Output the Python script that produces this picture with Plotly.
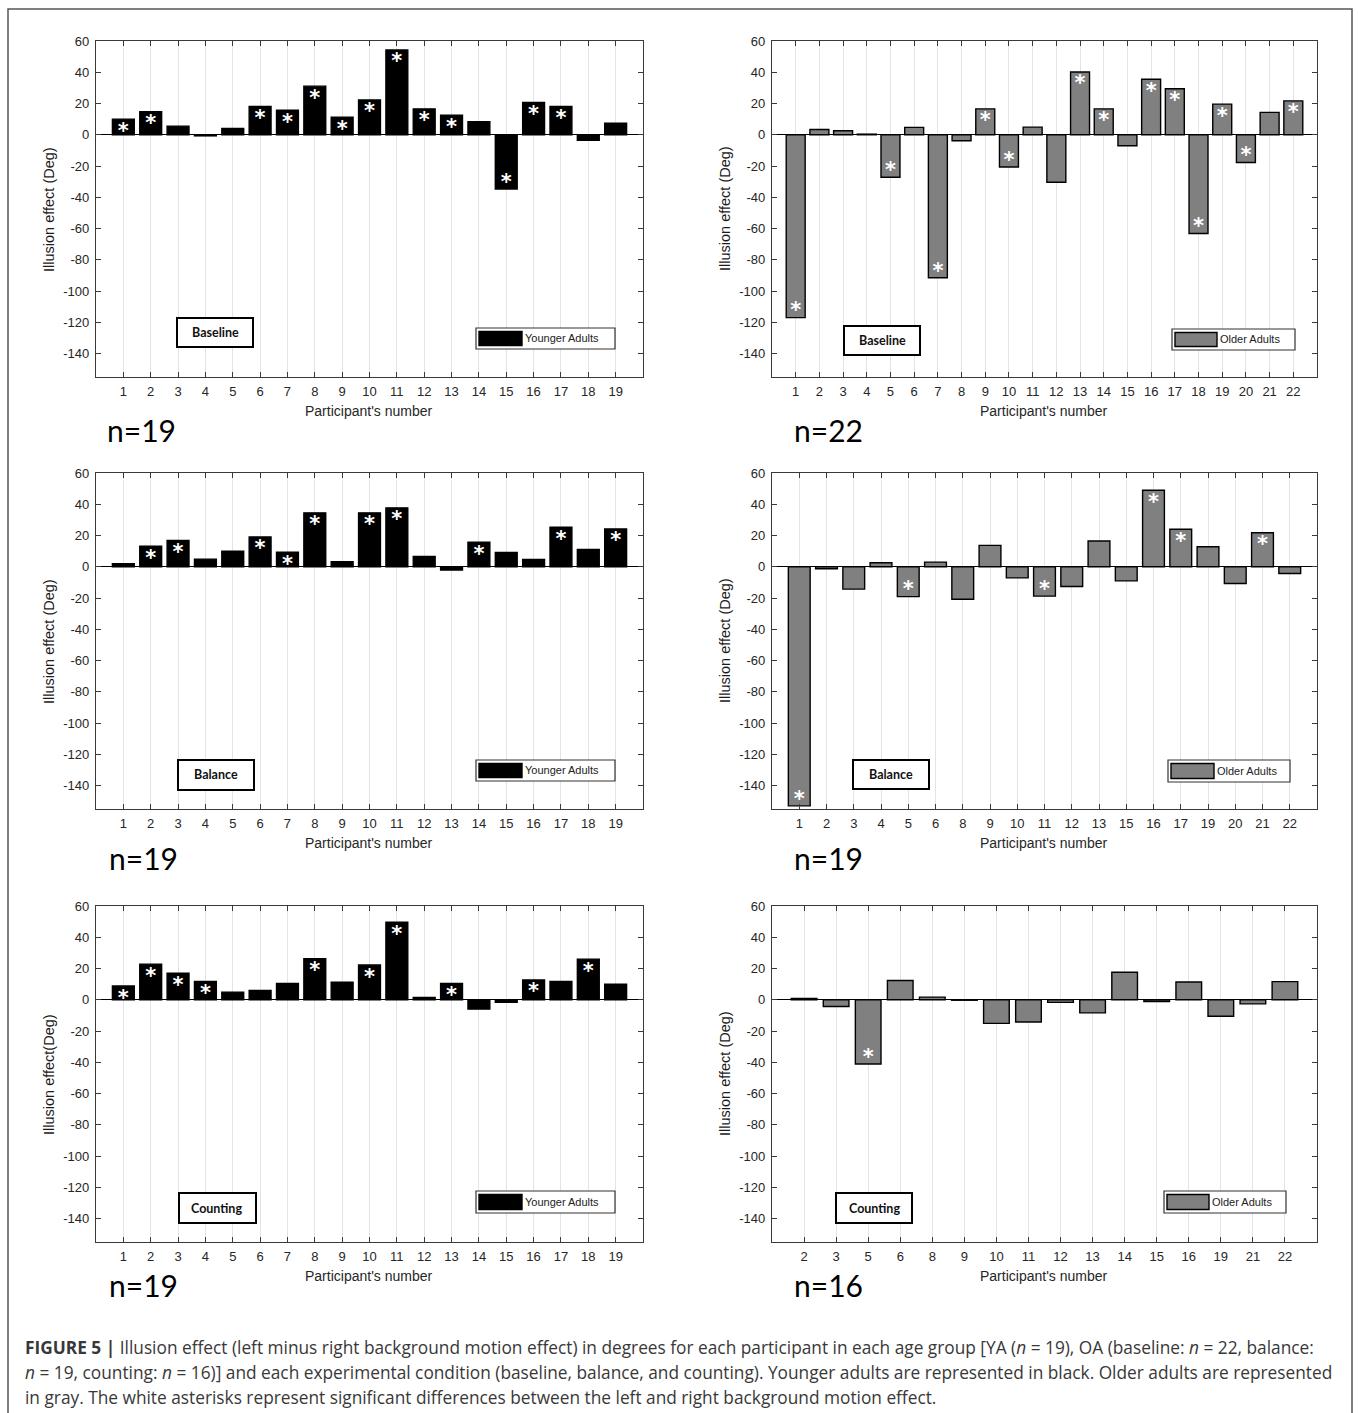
import plotly.graph_objects as go

W, H = 1358, 1413

# ---------------------------------------------------------------- data
ya_ids = ["1", "2", "3", "4", "5", "6", "7", "8", "9", "10",
          "11", "12", "13", "14", "15", "16", "17", "18", "19"]
oa_base_ids = ["1", "2", "3", "4", "5", "6", "7", "8", "9", "10", "11",
               "12", "13", "14", "15", "16", "17", "18", "19", "20", "21", "22"]
oa_bal_ids = ["1", "2", "3", "4", "5", "6", "8", "9", "10", "11",
              "12", "13", "15", "16", "17", "19", "20", "21", "22"]
oa_cnt_ids = ["2", "3", "5", "6", "8", "9", "10", "11",
              "12", "13", "14", "15", "16", "19", "21", "22"]

# illusion effect (deg) per participant
ya_baseline = [10.0, 14.7, 5.5, -0.7, 4.0, 18.1, 15.7, 31.1, 11.3, 22.3,
               54.3, 16.6, 12.6, 8.3, -34.7, 20.6, 18.1, -3.6, 7.4]
oa_baseline = [-117.0, 3.4, 2.6, 0.4, -27.2, 4.7, -91.5, -3.8, 16.6, -20.6, 4.9,
               -30.4, 40.2, 16.6, -7.0, 35.5, 29.4, -63.2, 19.6, -17.7, 14.3, 21.7]
ya_balance = [1.9, 13.1, 16.9, 4.9, 9.9, 19.1, 9.4, 34.5, 3.2, 34.5,
              37.7, 6.6, -2.1, 15.8, 9.2, 4.7, 25.3, 11.1, 24.2]
oa_balance = [-153.0, -1.3, -14.3, 2.6, -19.1, 3.0, -20.8, 13.7, -7.1, -18.8,
              -12.6, 16.5, -9.0, 49.0, 24.0, 12.8, -10.7, 21.8, -4.3]
ya_counting = [8.8, 22.8, 17.0, 11.8, 4.9, 6.0, 10.5, 26.2, 11.2, 22.2,
               49.7, 1.5, 10.5, -6.0, -1.7, 12.7, 11.8, 26.0, 9.9]
oa_counting = [0.9, -4.3, -41.1, 12.3, 1.7, -0.3, -15.1, -14.2,
               -1.7, -8.4, 17.6, -1.1, 11.4, -10.5, -2.6, 11.6]

# participants with a significant left/right difference (white asterisk)
ya_baseline_sig = ["1", "2", "6", "7", "8", "9", "10", "11", "12", "13", "15", "16", "17"]
oa_baseline_sig = ["1", "5", "7", "9", "10", "13", "14", "16", "17", "18", "19", "20", "22"]
ya_balance_sig = ["2", "3", "6", "7", "8", "10", "11", "14", "17", "19"]
oa_balance_sig = ["1", "5", "11", "16", "17", "21"]
ya_counting_sig = ["1", "2", "3", "4", "8", "10", "11", "13", "16", "18"]
oa_counting_sig = ["5"]

y_ticks = [60, 40, 20, 0, -20, -40, -60, -80, -100, -120, -140]

# ---------------------------------------------------------------- style
YA_COLOR = "#000000"
OA_COLOR = "#808080"
GRID = "#e4e0ee"
AXIS = "#3a3a3a"
TXT = "#262626"

col_x = [(96, 643), (772, 1317)]          # plot frame, px
row_y = [(41, 377), (473, 809), (906, 1242)]
ytitle_x = [49, 725]                      # rotated y-title centre, px

panels = [
    dict(ids=ya_ids, vals=ya_baseline, sig=ya_baseline_sig, color=YA_COLOR, col=0, row=0,
         cond="Baseline", group="Younger Adults", n="n=19", ytitle="Illusion effect (Deg)",
         cbox=(177, 318, 253, 347), lbox=(476, 328, 615, 349), sw=(479, 522), nxy=(105, 430)),
    dict(ids=oa_base_ids, vals=oa_baseline, sig=oa_baseline_sig, color=OA_COLOR, col=1, row=0,
         cond="Baseline", group="Older Adults", n="n=22", ytitle="Illusion effect (Deg)",
         cbox=(844, 326, 920, 355), lbox=(1172, 329, 1295, 350), sw=(1175, 1217), nxy=(792, 430)),
    dict(ids=ya_ids, vals=ya_balance, sig=ya_balance_sig, color=YA_COLOR, col=0, row=1,
         cond="Balance", group="Younger Adults", n="n=19", ytitle="Illusion effect (Deg)",
         cbox=(178, 760, 254, 790), lbox=(476, 760, 615, 781), sw=(479, 522), nxy=(107, 858)),
    dict(ids=oa_bal_ids, vals=oa_balance, sig=oa_balance_sig, color=OA_COLOR, col=1, row=1,
         cond="Balance", group="Older Adults", n="n=19", ytitle="Illusion effect (Deg)",
         cbox=(853, 760, 929, 789), lbox=(1168, 760, 1290, 782), sw=(1171, 1214), nxy=(792, 858)),
    dict(ids=ya_ids, vals=ya_counting, sig=ya_counting_sig, color=YA_COLOR, col=0, row=2,
         cond="Counting", group="Younger Adults", n="n=19", ytitle="Illusion effect(Deg)",
         cbox=(179, 1193, 256, 1223), lbox=(476, 1191, 615, 1213), sw=(479, 522), nxy=(107, 1285)),
    dict(ids=oa_cnt_ids, vals=oa_counting, sig=oa_counting_sig, color=OA_COLOR, col=1, row=2,
         cond="Counting", group="Older Adults", n="n=16", ytitle="Illusion effect (Deg)",
         cbox=(836, 1193, 912, 1223), lbox=(1164, 1191, 1286, 1213), sw=(1167, 1209), nxy=(792, 1285)),
]


def px(x):
    return x / W


def py(y):
    return 1 - y / H


def label(x, y, text, size, family="Liberation Sans", color=TXT, xanchor="center",
          angle=0):
    return dict(x=px(x), y=py(y), xref="paper", yref="paper", xanchor=xanchor,
                yanchor="middle", text=text, textangle=angle, showarrow=False,
                font=dict(family=family, size=size, color=color))


fig = go.Figure()
layout = dict(template="none", width=W, height=H,
              margin=dict(l=0, r=0, t=0, b=0, pad=0, autoexpand=False),
              paper_bgcolor="white", plot_bgcolor="white", showlegend=False,
              font=dict(family="Liberation Sans", color=TXT))
shapes, annotations = [], []

for i, p in enumerate(panels, start=1):
    xa, ya = f"x{i}", f"y{i}"
    x0, x1 = col_x[p["col"]]
    y0, y1 = row_y[p["row"]]
    n = len(p["ids"])

    fig.add_trace(go.Bar(
        x=p["ids"], y=p["vals"], width=0.8, xaxis=xa, yaxis=ya,
        marker=dict(color=p["color"], line=dict(color="black", width=1.4)),
        hoverinfo="x+y"))

    # asterisks sit just inside the end of each significant bar
    # (the glyph rides high in its text box, hence the uneven offsets)
    lookup = dict(zip(p["ids"], p["vals"]))
    sx = p["sig"]
    sy = [lookup[k] - 8.5 if lookup[k] > 0 else lookup[k] + 3.5 for k in sx]
    fig.add_trace(go.Scatter(
        x=sx, y=sy, mode="text", text=["*"] * len(sx), xaxis=xa, yaxis=ya,
        textfont=dict(family="DejaVu Sans", size=21, color="white", weight="bold"),
        hoverinfo="skip"))

    layout[f"xaxis{i}"] = dict(
        type="category", domain=[px(x0), px(x1)], anchor=ya, range=[-1, n],
        automargin=False,
        showline=True, linecolor=AXIS, linewidth=1.4, mirror="allticks",
        ticks="inside", ticklen=5, tickwidth=1.2, tickcolor=AXIS,
        showgrid=True, gridcolor=GRID, gridwidth=1, zeroline=False,
        tickfont=dict(family="Liberation Sans", size=13, color=TXT),
        ticklabelstandoff=2, fixedrange=True)
    layout[f"yaxis{i}"] = dict(
        domain=[py(y1), py(y0)], anchor=xa, range=[-155, 60], automargin=False,
        tickmode="array", tickvals=y_ticks, ticktext=[str(v) for v in y_ticks],
        showline=True, linecolor=AXIS, linewidth=1.4, mirror="allticks",
        ticks="inside", ticklen=5, tickwidth=1.2, tickcolor=AXIS,
        showgrid=False, zeroline=True, zerolinecolor="black", zerolinewidth=1.4,
        tickfont=dict(family="Liberation Sans", size=13, color=TXT),
        ticklabelstandoff=3, fixedrange=True)

    # axis titles
    annotations.append(label(ytitle_x[p["col"]], (y0 + y1) // 2, p["ytitle"], 14.5,
                             color="#1a1a1a", angle=-90))
    annotations.append(label((x0 + x1) // 2, y1 + 34, "Participant's number", 14))

    # sample size
    annotations.append(label(p["nxy"][0], p["nxy"][1], p["n"], 30, family="Lato",
                             color="black", xanchor="left"))

    # condition box
    bx0, by0, bx1, by1 = p["cbox"]
    shapes.append(dict(type="rect", xref="paper", yref="paper",
                       x0=px(bx0), x1=px(bx1), y0=py(by1), y1=py(by0),
                       line=dict(color="black", width=2), fillcolor="white", layer="above"))
    annotations.append(label((bx0 + bx1) // 2, (by0 + by1) // 2,
                             f"<b>{p['cond']}</b>", 12.5, family="Lato", color="#111"))

    # group key
    lx0, ly0, lx1, ly1 = p["lbox"]
    shapes.append(dict(type="rect", xref="paper", yref="paper",
                       x0=px(lx0), x1=px(lx1), y0=py(ly1), y1=py(ly0),
                       line=dict(color="#333", width=1.2), fillcolor="white", layer="above"))
    sw0, sw1 = p["sw"]
    shapes.append(dict(type="rect", xref="paper", yref="paper",
                       x0=px(sw0), x1=px(sw1), y0=py(ly1 - 3.5), y1=py(ly0 + 3.5),
                       line=dict(color="black", width=1.4), fillcolor=p["color"], layer="above"))
    annotations.append(label(sw1 + 1, (ly0 + ly1) // 2, p["group"], 11, color="#222",
                             xanchor="left"))

# outer frame
shapes.append(dict(type="rect", xref="paper", yref="paper",
                   x0=px(8), x1=px(1352), y0=py(1430), y1=py(9),
                   line=dict(color="#555", width=1.5), layer="below"))

caption = [
    "<b>FIGURE 5 |</b> Illusion effect (left minus right background motion effect) in degrees "
    "for each participant in each age group [YA (<i>n</i> = 19), OA (baseline: <i>n</i> = 22, balance:",
    "<i>n</i> = 19, counting: <i>n</i> = 16)] and each experimental condition (baseline, balance, "
    "and counting). Younger adults are represented in black. Older adults are represented",
    "in gray. The white asterisks represent significant differences between the left and right "
    "background motion effect.",
]
for k, line in enumerate(caption):
    annotations.append(label(23, 1347 + 25 * k, line, 17.3, family="Open Sans",
                             color="#383838", xanchor="left"))

layout["shapes"] = shapes
layout["annotations"] = annotations
fig.update_layout(**layout)

fig.write_html("out.html")
